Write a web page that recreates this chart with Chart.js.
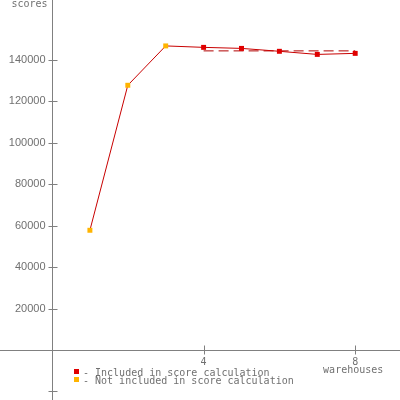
<!DOCTYPE html>
<html>
<head>
<meta charset="utf-8">
<script src="https://cdn.jsdelivr.net/npm/chart.js@4/dist/chart.umd.min.js"></script>
<style>
  html, body { margin: 0; padding: 0; background: #fff; }
  #chart { display: block; }
</style>
</head>
<body>
<canvas id="chart" width="400" height="400"></canvas>
<script>
// --- DATOS ---
const warehouses = [1, 2, 3, 4, 5, 6, 7, 8];
const scores = [57800, 127800, 146800, 146100, 145600, 144200, 142700, 143200];
const included = [false, false, false, true, true, true, true, true];
const scoreLineX = [4, 8];
const scoreLineY = [144400, 144400];
const yTicks = [20000, 40000, 60000, 80000, 100000, 120000, 140000];
const yExtraTicks = [-20000];
const xTicks = [4, 8];
const legendItems = [
  { color: '#e00000', text: '- Included in score calculation' },
  { color: '#ffb400', text: '- Not included in score calculation' }
];

const AXIS = '#808080';
const TEXT = '#707070';
const FONT = '10px "DejaVu Sans Mono", monospace';
const TICK_FONT = '11px "Liberation Sans", Arial, sans-serif';

// --- EJES DIBUJADOS A MANO ---
const ejesPlugin = {
  id: 'ejes',
  beforeDatasetsDraw(chart) {
    const c = chart.ctx;
    const xs = chart.scales.x, ys = chart.scales.y;
    const x0 = Math.round(xs.getPixelForValue(0)) + 0.5;
    const y0 = Math.round(ys.getPixelForValue(0)) + 0.5;
    c.save();
    c.strokeStyle = AXIS;
    c.lineWidth = 1;
    c.beginPath();
    c.moveTo(x0, 0); c.lineTo(x0, 400);
    c.moveTo(0, y0); c.lineTo(400, y0);
    yTicks.concat(yExtraTicks).forEach(v => {
      const y = Math.round(ys.getPixelForValue(v)) + 0.5;
      c.moveTo(x0 - 4, y); c.lineTo(x0 + 5, y);
    });
    xTicks.forEach(v => {
      const x = Math.round(xs.getPixelForValue(v)) + 0.5;
      c.moveTo(x, y0 - 5); c.lineTo(x, y0 + 4);
    });
    c.stroke();

    c.fillStyle = TEXT;
    c.font = TICK_FONT;
    c.textAlign = 'right';
    c.textBaseline = 'middle';
    yTicks.forEach(v => {
      c.fillText(String(v), x0 - 7, ys.getPixelForValue(v));
    });
    c.font = FONT;
    c.textBaseline = 'alphabetic';
    c.fillText('scores', x0 - 5, 7);

    c.textAlign = 'center';
    xTicks.forEach(v => {
      c.fillText(String(v), xs.getPixelForValue(v), y0 + 14);
    });
    c.fillText('warehouses', xs.getPixelForValue(8) - 2, y0 + 22);

    // leyenda
    c.textAlign = 'left';
    legendItems.forEach((item, i) => {
      const y = 372 + i * 8;
      c.fillStyle = item.color;
      c.fillRect(74, y - 3, 5, 5);
      c.fillStyle = TEXT;
      c.fillText(item.text, 83, y + 4);
    });
    c.restore();
  }
};

const puntos = warehouses.map((w, i) => ({ x: w, y: scores[i] }));
const colores = included.map(inc => inc ? '#e00000' : '#ffb400');

new Chart(document.getElementById('chart'), {
  type: 'line',
  data: {
    datasets: [{
      label: 'scores',
      data: puntos,
      borderColor: '#c80000',
      borderWidth: 1,
      tension: 0,
      pointStyle: 'rect',
      pointRadius: 3.5,
      pointBackgroundColor: colores,
      pointBorderColor: colores,
      pointBorderWidth: 0,
      clip: false
    }, {
      label: 'score',
      data: scoreLineX.map((x, i) => ({ x: x, y: scoreLineY[i] })),
      borderColor: '#b00000',
      borderWidth: 1,
      borderDash: [10, 5],
      pointRadius: 0
    }]
  },
  options: {
    responsive: false,
    animation: false,
    devicePixelRatio: 1,
    layout: { padding: 0, autoPadding: false },
    plugins: { legend: { display: false }, tooltip: { enabled: false } },
    scales: {
      x: { type: 'linear', display: false, min: -1.372, max: 9.182 },
      y: { type: 'linear', display: false, min: -24138, max: 168966 }
    }
  },
  plugins: [ejesPlugin]
});
</script>
</body>
</html>
